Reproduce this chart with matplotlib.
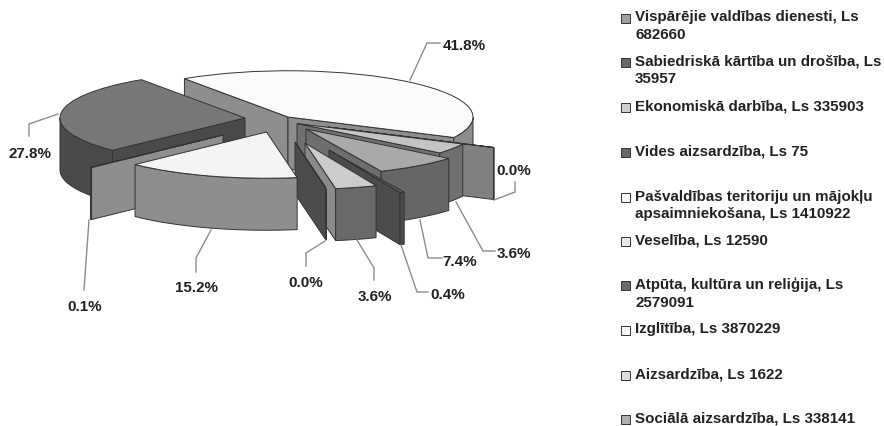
import numpy as np
import matplotlib
matplotlib.use("Agg")
import matplotlib.pyplot as plt
from matplotlib.patches import Wedge, Polygon, Rectangle
from matplotlib.transforms import Affine2D

# dati
vertibas = [682660, 35957, 335903, 75, 1410922, 12590, 2579091, 3870229, 1622, 338141]
nosaukumi = [
    "Vispārējie valdības dienesti, Ls\n682660",
    "Sabiedriskā kārtība un drošība, Ls\n35957",
    "Ekonomiskā darbība, Ls 335903",
    "Vides aizsardzība, Ls 75",
    "Pašvaldības teritoriju un mājokļu\napsaimniekošana, Ls 1410922",
    "Veselība, Ls 12590",
    "Atpūta, kultūra un reliģija, Ls\n2579091",
    "Izglītība, Ls 3870229",
    "Aizsardzība, Ls 1622",
    "Sociālā aizsardzība, Ls 338141",
]

# wyglad
c_top = ["#a9a9a9", "#5c5c5c", "#cccccc", "#555555", "#f4f4f4", "#e8e8e8", "#777777", "#fbfbfb", "#dddddd", "#c4c4c4"]
c_arc = ["#666666", "#4c4c4c", "#6a6a6a", "#4c4c4c", "#8e8e8e", "#8e8e8e", "#4a4a4a", "#8e8e8e", "#808080", "#707070"]
c_rad = ["#6e6e6e", "#4c4c4c", "#8a8a8a", "#4c4c4c", "#8e8e8e", "#8e8e8e", "#4a4a4a", "#8e8e8e", "#808080", "#707070"]
c_leg = ["#a0a0a0", "#666666", "#cfcfcf", "#666666", "#f8f8f8", "#e8e8e8", "#6a6a6a", "#fbfbfb", "#dddddd", "#b0b0b0"]
wierzch = [(306, 129), (329, 150), (305, 143), (295, 142), (266.5, 132),
           (223, 135), (245, 118), (288, 117), (328, 127), (297, 123.5)]
kolejnosc = [7, 8, 9, 0, 1, 2, 3, 6, 5, 4]
leg_y = [18, 62, 107, 152, 197, 241, 285, 330, 375, 419]

R = 185.0
k = 0.25
gl = 52.0
start = -39.5
kraw = "#333333"
lw = 0.7

lab_xy = [(460, 262), (448, 295), (375, 297), (306, 283), (197, 288),
          (85, 307), (30, 154), (464, 46), (514, 171), (514, 254)]
linie = [
    [(420, 220), (428, 258), (442, 258)],
    [(401, 245), (417, 292), (428, 292)],
    [(357, 240), (374, 268), (374, 280)],
    [(325, 241), (306, 253), (306, 266)],
    [(211, 230), (196, 258), (196, 272)],
    [(89, 220), (84, 290)],
    [(58, 114), (29, 124), (29, 136)],
    [(410, 80), (427, 43), (440, 43)],
    [(494, 200), (515, 192), (515, 182)],
    [(456, 202), (483, 251), (495, 251)],
]

plt.rcParams["font.family"] = ["Liberation Sans", "DejaVu Sans"]
plt.rcParams["font.weight"] = "bold"
fs = 10.9

fig = plt.figure(figsize=(8.84, 4.26), dpi=100)
ax = fig.add_axes([0, 0, 1, 1])
ax.set_xlim(0, 884)
ax.set_ylim(426, 0)
ax.axis("off")

v = np.array(vertibas, dtype=float)
katy = start - np.concatenate(([0.0], np.cumsum(v))) / v.sum() * 360.0


def punkt(w, th, r=R):
    return (w[0] + r * np.cos(np.radians(th)), w[1] - k * r * np.sin(np.radians(th)))


def sciana(w, th, kolor):
    x, y = punkt(w, th)
    pts = [w, (x, y), (x, y + gl), (w[0], w[1] + gl)]
    ax.add_patch(Polygon(pts, closed=True, fc=kolor, ec=kraw, lw=lw))


for i in kolejnosc:
    w = wierzch[i]
    gora, dol = katy[i], katy[i + 1]
    # sciany boczne widoczne od przodu
    if np.cos(np.radians(gora)) < 0:
        sciana(w, gora, c_rad[i])
    if np.cos(np.radians(dol)) > 0:
        sciana(w, dol, c_rad[i])
    # luk zewnetrzny
    th = np.linspace(dol, gora, 300)
    th = th[np.sin(np.radians(th)) < 0]
    if len(th) > 1:
        xs = w[0] + R * np.cos(np.radians(th))
        ys = w[1] - k * R * np.sin(np.radians(th))
        pts = np.vstack([np.column_stack([xs, ys]), np.column_stack([xs[::-1], ys[::-1] + gl])])
        ax.add_patch(Polygon(pts, closed=True, fc=c_arc[i], ec=kraw, lw=lw))
    tr = Affine2D().scale(1, -k).translate(w[0], w[1]) + ax.transData
    ax.add_patch(Wedge((0, 0), R, dol, gora, fc=c_top[i], ec=kraw, lw=lw, transform=tr))

for i, l in enumerate(linie):
    xs, ys = zip(*l)
    ax.plot(xs, ys, color="#8c8c8c", lw=1.0, solid_joinstyle="miter")
    ax.text(lab_xy[i][0], lab_xy[i][1], f"{100 * v[i] / v.sum():.1f}%", ha="center", va="center",
            fontsize=fs, color="#222222")

for i, n in enumerate(nosaukumi):
    ax.add_patch(Rectangle((621, leg_y[i] - 4.5), 9, 9, fc=c_leg[i], ec="#333333", lw=0.7))
    ax.text(635, leg_y[i] - 7.5, n, ha="left", va="top", fontsize=fs, color="#222222", linespacing=1.3)

fig.savefig("out.png", dpi=100)
